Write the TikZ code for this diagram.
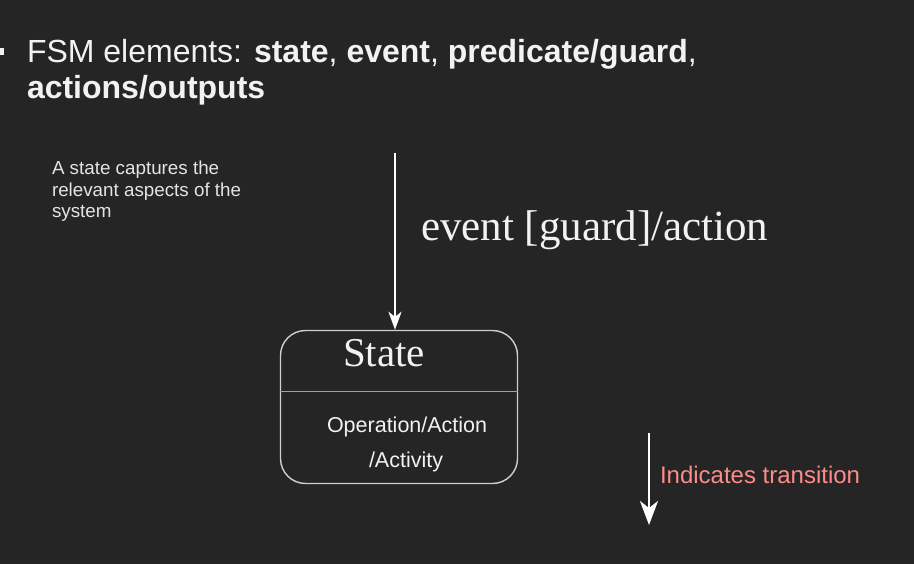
\documentclass[tikz,border=0pt]{standalone}
\usepackage{fontspec}
\setmainfont{Liberation Sans}
\newfontfamily\serifface{Liberation Serif}
\usetikzlibrary{arrows.meta}

\definecolor{bgdark}{HTML}{252525}
\definecolor{textwhite}{HTML}{F2F2F2}
\definecolor{textgray}{HTML}{E4E4E4}
\definecolor{boxline}{HTML}{CFCFCF}
\definecolor{divline}{HTML}{A0A0A0}
\definecolor{pinktext}{HTML}{FF8A8A}

\tikzset{
  txt/.style={inner sep=0pt, outer sep=0pt, anchor=base west},
  titletext/.style={txt, text=textwhite, font=\fontsize{32bp}{35bp}\selectfont},
  desctext/.style={txt, text=textgray, font=\fontsize{18.8bp}{21bp}\selectfont},
  statebox/.style={draw=boxline, line width=1.4bp, rounded corners=25bp,
    minimum width=237bp, minimum height=153bp, inner sep=0pt},
  transarrow/.style={draw=white, line width=2.2bp,
    -{Stealth[length=18bp, width=13bp, inset=5bp]}},
}

\begin{document}
\begin{tikzpicture}[x=1bp, y=-1bp]
  % slide background
  \fill[bgdark] (0,0) rectangle (914,564);
  \useasboundingbox (0,0) rectangle (914,564);

  % bullet heading
  \fill[textwhite] (-1,48.5) rectangle (4,55);
  \node[titletext] (title1) at (27,63)
    {FSM elements: \textbf{state}, \textbf{event}, \textbf{predicate/guard},};
  \node[titletext] (title2) at (27,98.5) {\textbf{actions/outputs}};

  % note on states
  \node[desctext] (desc1) at (52,175) {A state captures the};
  \node[desctext] (desc2) at (52,196.5) {relevant aspects of the};
  \node[desctext] (desc3) at (52,218) {system};

  % state with its compartments
  \node[statebox] (state) at (399,407) {};
  \draw[divline, line width=1.8bp] (state.west |- 0,391.5) -- (state.east |- 0,391.5);
  \node[txt, text=textwhite, font=\serifface\fontsize{41bp}{41bp}\selectfont]
    (statename) at (343,366) {State};
  \node[txt, text=textwhite, font=\fontsize{21.5bp}{24bp}\selectfont]
    (op1) at (327,432) {Operation/Action};
  \node[txt, text=textwhite, font=\fontsize{21.5bp}{24bp}\selectfont]
    (op2) at (369,467) {/Activity};

  % incoming transition and its label
  \coordinate (src) at (395,153);
  \draw[transarrow] (src) -- (src |- state.north);
  \node[txt, text=textwhite, font=\serifface\fontsize{43bp}{43bp}\selectfont]
    (evlabel) at (421,241) {event [guard]/action};

  % legend
  \coordinate (legtop) at (649,433);
  \coordinate (legend) at (649,525);
  \draw[transarrow, line width=2.8bp,
    -{Stealth[length=24bp, width=18bp, inset=7bp]}] (legtop) -- (legend);
  \node[txt, text=pinktext, font=\fontsize{24bp}{26bp}\selectfont]
    (legtext) at (660,483.5) {Indicates transition};
\end{tikzpicture}
\end{document}
